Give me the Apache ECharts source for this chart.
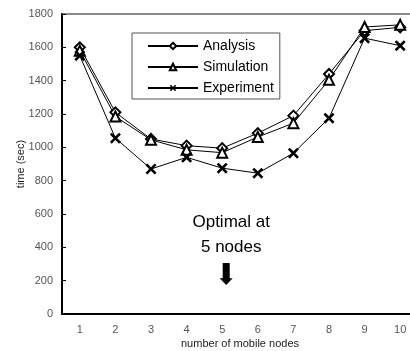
<!DOCTYPE html>
<html>
<head>
<meta charset="utf-8">
<script src="https://cdn.jsdelivr.net/npm/echarts@6/dist/echarts.min.js"></script>
<style>
  html, body { margin: 0; padding: 0; background: #fff; }
  #chart { width: 410px; height: 351px; }
</style>
</head>
<body>
<div id="chart"></div>
<script>
const nodes = ["1", "2", "3", "4", "5", "6", "7", "8", "9", "10"];
const analysis = [1600, 1210, 1050, 1010, 995, 1085, 1190, 1440, 1700, 1720];
const simulation = [1580, 1185, 1045, 985, 968, 1062, 1145, 1405, 1722, 1735];
const experiment = [1550, 1055, 870, 940, 875, 845, 965, 1175, 1655, 1610];

const crossPath = "path://M0,2 L2,0 L6,4 L10,0 L12,2 L8,6 L12,10 L10,12 L6,8 L2,12 L0,10 L4,6 Z";
const arrowPath = "path://M3,0 L10,0 L10,16 L13,16 L6.5,23 L0,16 L3,16 Z";

const chart = echarts.init(document.getElementById("chart"));
const font = "Liberation Sans, Arial, sans-serif";

const lineSeries = (name, data, symbol, size, fill) => ({
  name: name,
  type: "line",
  data: data,
  symbol: symbol,
  symbolSize: size,
  itemStyle: { color: fill, borderColor: "#000", borderWidth: 2 },
  lineStyle: { color: "#000", width: 1 },
  emphasis: { disabled: true },
  animation: false,
});

const option = {
  animation: false,
  textStyle: { fontFamily: font },
  grid: {
    left: 62, top: 14, bottom: 37, right: -8,
    outerBoundsMode: "none",
    containLabel: false,
    show: true, borderColor: "#888", borderWidth: 2,
  },
  legend: {
    orient: "vertical",
    left: 132, top: 33,
    width: 145,
    padding: [6, 6, 4, 15],
    borderColor: "#555",
    borderWidth: 1,
    itemWidth: 50,
    itemHeight: 8,
    itemGap: 7,
    textStyle: { fontSize: 14, color: "#000", fontFamily: font },
    data: ["Analysis", "Simulation", "Experiment"],
  },
  xAxis: {
    type: "category",
    data: nodes,
    boundaryGap: true,
    name: "number of mobile nodes",
    nameLocation: "middle",
    nameGap: 24,
    nameMoveOverlap: false,
    nameTextStyle: { fontSize: 11, color: "#222" },
    axisLine: { lineStyle: { color: "#000", width: 2 } },
    axisTick: { inside: true, length: 4, lineStyle: { color: "#000" } },
    axisLabel: { fontSize: 11, color: "#555", margin: 10 },
    splitLine: { show: false },
  },
  yAxis: {
    type: "value",
    min: 0, max: 1800, interval: 200,
    name: "time (sec)",
    nameLocation: "middle",
    nameGap: 36,
    nameMoveOverlap: false,
    nameTextStyle: { fontSize: 11, color: "#222" },
    axisLine: { show: true, lineStyle: { color: "#000", width: 2 } },
    axisTick: { show: true, inside: true, length: 4, lineStyle: { color: "#000" } },
    axisLabel: { fontSize: 11, color: "#555", margin: 9, formatter: (v) => String(v) },
    splitLine: { show: false },
  },
  series: [
    lineSeries("Analysis", analysis, "diamond", 10, "#fff"),
    lineSeries("Simulation", simulation, "triangle", 10, "#fff"),
    Object.assign(lineSeries("Experiment", experiment, crossPath, 11, "#000"), {
      itemStyle: { color: "#000" },
      markPoint: {
        silent: true,
        animation: false,
        data: [
          {
            coord: ["5", 240],
            symbol: arrowPath,
            symbolSize: [13, 22],
            symbolOffset: [4, 0],
            itemStyle: { color: "#000", borderWidth: 0 },
            label: { show: false },
          },
          {
            coord: ["5", 477],
            symbol: "circle",
            symbolSize: 0,
            label: {
              show: true,
              position: "inside",
              offset: [9, 0],
              formatter: "Optimal at\n5 nodes",
              fontSize: 17,
              lineHeight: 25,
              color: "#000",
              fontFamily: font,
            },
          },
        ],
      },
    }),
  ],
};

chart.setOption(option);
</script>
</body>
</html>
